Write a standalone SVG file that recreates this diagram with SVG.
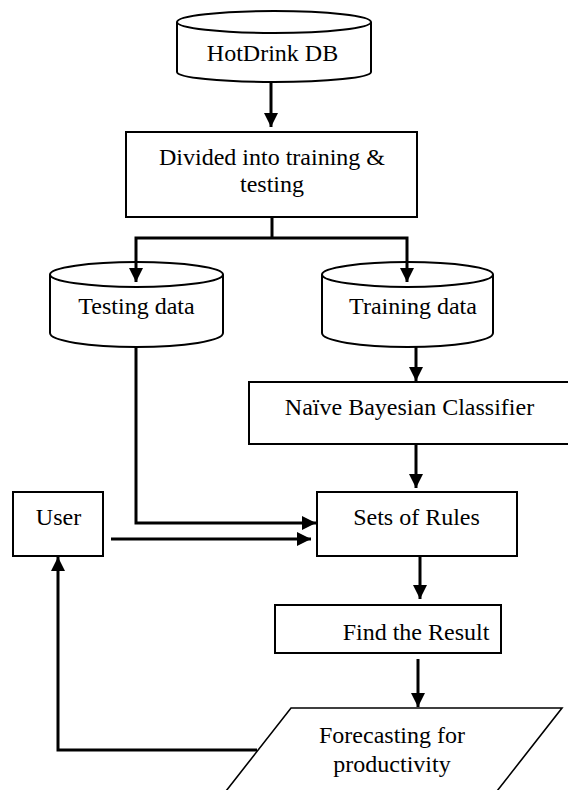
<svg xmlns="http://www.w3.org/2000/svg" width="568" height="790" viewBox="0 0 568 790" font-family="Liberation Serif, Times New Roman, serif">
<style>
.box{fill:#fff;stroke:#000;stroke-width:2}
.cyl{fill:#fff;stroke:#000;stroke-width:2}
.par{fill:#fff;stroke:#000;stroke-width:1.6}
.con{fill:none;stroke:#000;stroke-width:3}
.arr{marker-end:url(#ah)}
.t{font-size:24px;fill:#000;text-anchor:middle}
</style>
<defs>
<marker id="ah" viewBox="0 0 14 14" refX="14" refY="7" markerWidth="14" markerHeight="14" markerUnits="userSpaceOnUse" orient="auto">
<path d="M0,0 L14,7 L0,14 z" fill="#000"/>
</marker>
</defs>
<rect width="568" height="790" fill="#fff"/>
<g id="hotdrink">
<path class="cyl" d="M177,22 L177,72 A97,10 0 0 0 371,72 L371,22"/>
<ellipse class="cyl" cx="274" cy="22" rx="97" ry="11"/>
<text class="t" font-family="Liberation Serif" x="272.5" y="61">HotDrink DB</text>
</g>
<g id="divided">
<rect class="box" x="126" y="132" width="291" height="85"/>
<text class="t" font-family="Liberation Serif" x="272" y="165">Divided into training &amp;</text>
<text class="t" font-family="Liberation Serif" x="272" y="192">testing</text>
</g>
<g id="testing">
<path class="cyl" d="M50,274.5 L50,333 A86.5,14 0 0 0 223,333 L223,274.5"/>
<ellipse class="cyl" cx="136.5" cy="274.5" rx="86.5" ry="12.5"/>
<text class="t" font-family="Liberation Serif" x="136.5" y="314">Testing data</text>
</g>
<g id="training">
<path class="cyl" d="M322,274.5 L322,333 A85.5,14 0 0 0 493,333 L493,274.5"/>
<ellipse class="cyl" cx="407.5" cy="274.5" rx="85.5" ry="12.5"/>
<text class="t" font-family="Liberation Serif" x="413" y="314">Training data</text>
</g>
<g id="naive">
<rect class="box" x="249" y="382" width="322" height="62"/>
<text class="t" font-family="Liberation Serif" x="409.5" y="415">Naïve Bayesian Classifier</text>
</g>
<g id="rules">
<rect class="box" x="317" y="492" width="200" height="64"/>
<text class="t" font-family="Liberation Serif" x="416.5" y="525">Sets of Rules</text>
</g>
<g id="user">
<rect class="box" x="13" y="492" width="90" height="64"/>
<text class="t" font-family="Liberation Serif" x="58.5" y="525">User</text>
</g>
<g id="result">
<rect class="box" x="275" y="605" width="226" height="48"/>
<text class="t" font-family="Liberation Serif" x="416" y="640">Find the Result</text>
</g>
<g id="forecast">
<path class="par" d="M291,708 L562,708 L490,800 L219,800 z"/>
<text class="t" font-family="Liberation Serif" x="392" y="743">Forecasting for</text>
<text class="t" font-family="Liberation Serif" x="392" y="772">productivity</text>
</g>
<g id="connectors">
<line class="con arr" x1="271" y1="82" x2="271" y2="127"/>
<polyline class="con" points="272,217 272,238"/>
<polyline class="con arr" points="272,238 136,238 136,282"/>
<polyline class="con arr" points="272,238 407,238 407,282"/>
<polyline class="con arr" points="136,347 136,523 316,523"/>
<line class="con arr" x1="416" y1="347" x2="416" y2="381"/>
<line class="con arr" x1="416" y1="444" x2="416" y2="488"/>
<line class="con arr" x1="111" y1="539" x2="311" y2="539"/>
<line class="con arr" x1="420" y1="556" x2="420" y2="599"/>
<line class="con arr" x1="418" y1="659" x2="418" y2="707"/>
<polyline class="con arr" points="257,750 58,750 58,557"/>
</g>
</svg>
